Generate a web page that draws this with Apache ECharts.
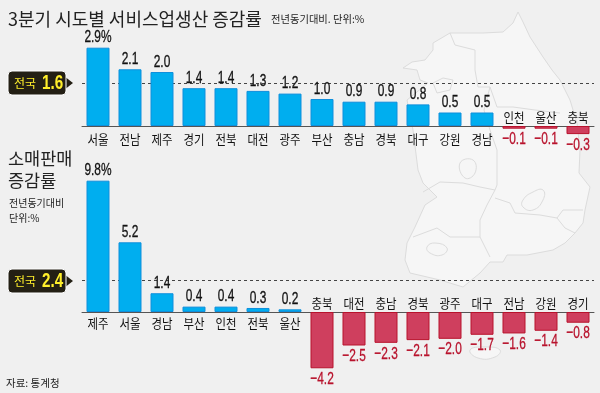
<!DOCTYPE html>
<html>
<head>
<meta charset="utf-8">
<style>html,body{margin:0;padding:0;background:#f0f0f0}#chart{width:600px;height:393px}</style>
<script src="https://cdn.jsdelivr.net/npm/echarts@6/dist/echarts.min.js"></script>
</head>
<body>
<div id="chart"></div>
<script>
var serviceRegions = ['서울','전남','제주','경기','전북','대전','광주','부산','충남','경북','대구','강원','경남','인천','울산','충북'];
var serviceValues = [2.9,2.1,2.0,1.4,1.4,1.3,1.2,1.0,0.9,0.9,0.8,0.5,0.5,-0.1,-0.1,-0.3];
var serviceNational = 1.6;

var retailRegions = ['제주','서울','경남','부산','인천','전북','울산','충북','대전','충남','경북','광주','대구','전남','강원','경기'];
var retailValues = [9.8,5.2,1.4,0.4,0.4,0.3,0.2,-4.2,-2.5,-2.3,-2.1,-2.0,-1.7,-1.6,-1.4,-0.8];
var retailNational = 2.4;

var KR = '"Noto Sans CJK KR"';
var LATIN = '"Liberation Sans"';
var BLUE = '#00aeef', BLUE_EDGE = '#0f8fdc', RED = '#cf3f5e', RED_EDGE = '#b8122c';

function fmt(v, i) {
    var s = Math.abs(v).toFixed(1);
    if (v < 0) return '−' + s;
    return i === 0 ? s + '%' : s;
}

function barData(values) {
    return values.map(function (v) {
        return {
            value: v,
            itemStyle: {color: v < 0 ? RED : BLUE, borderColor: v < 0 ? RED_EDGE : BLUE_EDGE, borderWidth: 1}
        };
    });
}

function barSeries(name, values, idx, national) {
    return {
        name: name,
        type: 'bar',
        xAxisIndex: idx,
        yAxisIndex: idx,
        barWidth: 23,
        z: 2,
        data: barData(values),
        markLine: {
            silent: true,
            z: 1,
            symbol: 'none',
            label: {show: false},
            lineStyle: {color: '#444', type: [3, 3], width: 1},
            data: [{yAxis: national}]
        }
    };
}

// 수치 라벨: 장체 느낌을 내려고 custom + scaleX 사용
function valueLabels(values, idx) {
    return {
        type: 'custom',
        xAxisIndex: idx,
        yAxisIndex: idx,
        z: 3,
        silent: true,
        clip: false,
        data: values.map(function (v, i) { return [i, v]; }),
        renderItem: function (params, api) {
            var v = api.value(1);
            var pt = api.coord([api.value(0), v]);
            var color = v < 0 ? RED_EDGE : '#111';
            return {
                type: 'text',
                x: pt[0],
                y: pt[1] + (v < 0 ? 11 : -10),
                scaleX: 0.7,
                style: {
                    text: fmt(v, params.dataIndex),
                    font: '17px ' + LATIN,
                    fill: color,
                    stroke: color,
                    lineWidth: 0.3,
                    textAlign: 'center',
                    textVerticalAlign: 'middle'
                }
            };
        }
    };
}

// 지역명: 양수는 축 아래, 음수는 축 위
function nameLabels(regions, values, idx, below) {
    return {
        type: 'custom',
        xAxisIndex: idx,
        yAxisIndex: idx,
        z: 3,
        silent: true,
        clip: false,
        data: regions.map(function (r, i) { return [i, 0]; }),
        renderItem: function (params, api) {
            var pt = api.coord([api.value(0), 0]);
            var neg = values[params.dataIndex] < 0;
            return {
                type: 'text',
                x: pt[0],
                y: pt[1] + (neg ? -9 : below),
                scaleX: 0.88,
                style: {
                    text: regions[params.dataIndex],
                    font: '13px ' + KR,
                    fill: '#111',
                    textAlign: 'center',
                    textVerticalAlign: 'middle'
                }
            };
        }
    };
}

function catAxis(grid, regions) {
    return {
        type: 'category',
        gridIndex: grid,
        data: regions,
        axisLine: {onZero: true, lineStyle: {color: '#555', width: 1}},
        axisTick: {show: false},
        axisLabel: {show: false}
    };
}

var mapOutline = [[518,12],[523,22],[530,37],[543,57],[552,70],[560,80],[570,100],[577,123],[580,150],[579,173],[590,187],[585,210],[583,223],[575,233],[565,243],[553,250],[527,255],[507,255],[503,262],[490,262],[480,273],[463,287],[440,280],[410,273],[405,260],[407,243],[415,227],[425,205],[437,197],[423,183],[418,170],[413,130],[407,100],[428,83],[420,80],[417,70],[403,68],[412,62],[425,60],[433,50],[433,43],[450,33],[483,33],[503,32],[513,23]];
var mapLines = [
    [[450,33],[455,45],[475,50],[475,70],[478,87],[490,87],[497,107],[513,107],[535,110],[560,113]],
    [[490,87],[484,110],[490,130],[497,150],[497,185],[495,190]],
    [[423,192],[440,182],[463,183],[480,187],[495,190],[487,205],[480,220],[480,237],[490,257]],
    [[495,198],[510,203],[515,213],[540,215],[557,218],[563,210],[583,210]],
    [[557,218],[565,228],[575,233]],
    [[413,237],[437,228],[450,237],[473,237],[480,237]],
    [[433,83],[443,78],[453,80],[450,90],[437,93],[433,83]]
];
var mapBlobs = [
    [[523,200],[533,192],[543,190],[543,200],[533,210],[523,207]],
    [[427,247],[435,243],[447,248],[442,255],[430,253]],
    [[460,163],[473,160],[475,173],[465,178]],
    [[470,350],[485,347],[500,350],[495,357],[478,358]]
];

function callout(y, num) {
    return [
        {type: 'polygon', z: 1, shape: {points: [[64, y - 7], [73, y], [64, y + 7]]}, style: {fill: '#231f14'}},
        {type: 'rect', z: 1, shape: {x: 8, y: y - 12, width: 58, height: 24, r: 4}, style: {fill: '#231f14', stroke: '#fff', lineWidth: 1}},
        {type: 'text', z: 2, x: 14, y: y, style: {text: '전국', fill: '#ffef2b', font: '12px ' + KR, textVerticalAlign: 'middle'}},
        {type: 'text', z: 2, x: 42, y: y, scaleX: 0.76, style: {text: num, fill: '#ffef2b', font: 'bold 20px ' + LATIN, textVerticalAlign: 'middle'}}
    ];
}

function label(x, y, text, size) {
    return {type: 'text', z: 2, x: x, y: y, style: {text: text, fill: '#222', font: size + 'px ' + KR, textVerticalAlign: 'middle'}};
}

var MAP_FILL = '#f6f6f6', MAP_EDGE = '#dcdcdc';
var graphics = [
    {type: 'polygon', z: 0, shape: {points: mapOutline}, style: {fill: MAP_FILL, stroke: MAP_EDGE, lineWidth: 1}}
];
mapLines.forEach(function (pts) {
    graphics.push({type: 'polyline', z: 0, shape: {points: pts}, style: {fill: null, stroke: MAP_EDGE, lineWidth: 1}});
});
mapBlobs.forEach(function (pts) {
    graphics.push({type: 'polygon', z: 0, shape: {points: pts, smooth: 0.5}, style: {fill: MAP_FILL, stroke: MAP_EDGE, lineWidth: 1}});
});
graphics = graphics.concat(
    callout(83, serviceNational.toFixed(1)),
    callout(281, retailNational.toFixed(1)),
    [
        label(8, 19, '3분기 시도별 서비스업생산 증감률', 18),
        label(271, 19, '전년동기대비. 단위:%', 10.3),
        label(8, 158, '소매판매', 17.5),
        label(8, 180, '증감률', 17.5),
        label(9, 203, '전년동기대비', 10),
        label(9, 218, '단위:%', 10),
        label(6, 383, '자료: 통계청', 10.5)
    ]
);

var option = {
    backgroundColor: '#f0f0f0',
    animation: false,
    graphic: graphics,
    grid: [
        {left: 82, width: 512, top: 45, height: 108},
        {left: 82, width: 512, top: 178, height: 201}
    ],
    xAxis: [catAxis(0, serviceRegions), catAxis(1, retailRegions)],
    yAxis: [
        {type: 'value', gridIndex: 0, min: -1, max: 3, show: false},
        {type: 'value', gridIndex: 1, min: -5, max: 10, show: false}
    ],
    series: [
        barSeries('서비스업생산', serviceValues, 0, serviceNational),
        barSeries('소매판매', retailValues, 1, retailNational),
        valueLabels(serviceValues, 0),
        valueLabels(retailValues, 1),
        nameLabels(serviceRegions, serviceValues, 0, 13),
        nameLabels(retailRegions, retailValues, 1, 11)
    ]
};

var myChart = echarts.init(document.getElementById('chart'));
myChart.setOption(option);
</script>
</body>
</html>
